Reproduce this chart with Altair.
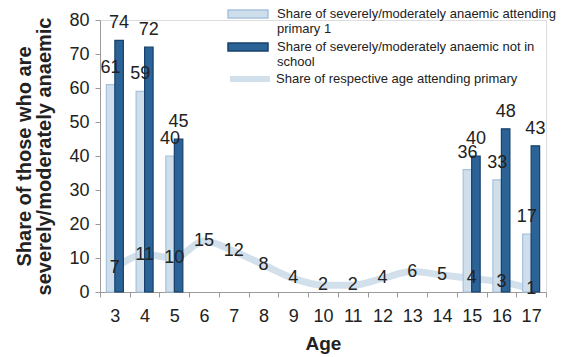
import altair as alt
import pandas as pd

# Ages on the horizontal axis
ages = list(range(3, 18))

# Anaemia shares by age (bars only at ages with data)
bar_ages = [3, 4, 5, 15, 16, 17]
primary1_share = [61, 59, 40, 36, 33, 17]
not_in_school_share = [74, 72, 45, 40, 48, 43]

# Share of each age attending primary school
attending_share = [7, 11, 10, 15, 12, 8, 4, 2, 2, 4, 6, 5, 4, 3, 1]

s_p1 = "Share of severely/moderately anaemic attending|primary 1"
s_nis = "Share of severely/moderately anaemic not in|school"
s_line = "Share of respective age attending primary"

light_fill, light_edge = "#cfdeeb", "#a6c2dd"
dark_fill, dark_edge = "#2b6396", "#17406a"
line_col = "#d2e0ec"
font = "Liberation Sans"
ink = "#222222"

bar_df = pd.DataFrame({
    "age": bar_ages * 2,
    "series": [s_p1] * len(bar_ages) + [s_nis] * len(bar_ages),
    "value": primary1_share + not_in_school_share,
})
line_df = pd.DataFrame({"age": ages, "series": s_line, "value": attending_share})

x_enc = alt.X(
    "age:O",
    scale=alt.Scale(domain=ages, paddingInner=0, paddingOuter=0),
    axis=alt.Axis(
        title="Age", labelAngle=0, tickBand="extent", labelFontSize=18,
        labelColor=ink, labelPadding=10, titleFontSize=19, titleColor=ink,
        titleFontWeight="bold", titlePadding=9, domainColor="#9a9a9a",
        tickColor="#9a9a9a", tickSize=5, labelFont=font, titleFont=font,
    ),
)
y_enc = alt.Y(
    "value:Q",
    scale=alt.Scale(domain=[0, 80]),
    axis=alt.Axis(
        title=["Share of those who are", "severely/moderately anaemic"],
        values=list(range(0, 81, 10)), grid=False, labelFontSize=18,
        labelColor=ink, labelPadding=6, titleFontSize=20, titleColor=ink,
        titleFontWeight="bold", titlePadding=14, titleLineHeight=20,
        domainColor="#9a9a9a", tickColor="#9a9a9a", tickSize=5,
        labelFont=font, titleFont=font,
    ),
)
offset_enc = alt.XOffset(
    "series:N",
    scale=alt.Scale(domain=[s_p1, s_nis], paddingInner=0, paddingOuter=0.75),
)

# wide flat legend swatches drawn as custom symbol paths
bar_legend = alt.Legend(
    title=None, orient="none", legendX=137, legendY=-17,
    symbolType="M-2,-0.4H2V0.4H-2Z", symbolSize=400, symbolStrokeWidth=1.5,
    labelExpr="split(datum.label, '|')", labelFontSize=13, labelColor=ink,
    labelFont=font, labelLimit=400, padding=0, rowPadding=0, labelOffset=18,
)

bars = alt.Chart(bar_df).mark_bar(strokeWidth=1.2).encode(
    x=x_enc,
    xOffset=offset_enc,
    y=y_enc,
    fill=alt.Fill("series:N", scale=alt.Scale(domain=[s_p1, s_nis], range=[light_fill, dark_fill]),
                  legend=bar_legend),
    stroke=alt.Stroke("series:N", scale=alt.Scale(domain=[s_p1, s_nis], range=[light_edge, dark_edge]),
                      legend=bar_legend),
)

bar_labels = alt.Chart(bar_df).mark_text(
    baseline="bottom", dy=-8, fontSize=18, font=font, color=ink
).encode(x=x_enc, xOffset=offset_enc, y=y_enc, text="value:Q")

line = alt.Chart(line_df).mark_line(
    interpolate="monotone", strokeWidth=7, strokeCap="round", strokeJoin="round"
).encode(
    x=x_enc,
    y=y_enc,
    color=alt.Color(
        "series:N",
        scale=alt.Scale(domain=[s_line], range=[line_col]),
        legend=alt.Legend(
            title=None, orient="none", legendX=137, legendY=46,
            symbolType="M-2,0H2", symbolSize=400, symbolStrokeWidth=6,
            labelFontSize=13, labelColor=ink, labelFont=font, labelLimit=400,
            padding=0, labelOffset=13,
        ),
    ),
)

line_labels = alt.Chart(line_df).mark_text(
    baseline="middle", fontSize=18, font=font, color=ink
).encode(x=x_enc, y=y_enc, text="value:Q")

chart = alt.layer(line, bars, bar_labels, line_labels).resolve_scale(
    color="independent", fill="independent", stroke="independent"
).properties(
    width=446, height=272,
    autosize=alt.AutoSizeParams(type="none"),
    padding={"left": 100, "top": 20, "right": 23, "bottom": 65},
).configure_view(stroke=None).configure(font=font)

chart.save("out.html", embed_options={"renderer": "svg", "actions": False})
